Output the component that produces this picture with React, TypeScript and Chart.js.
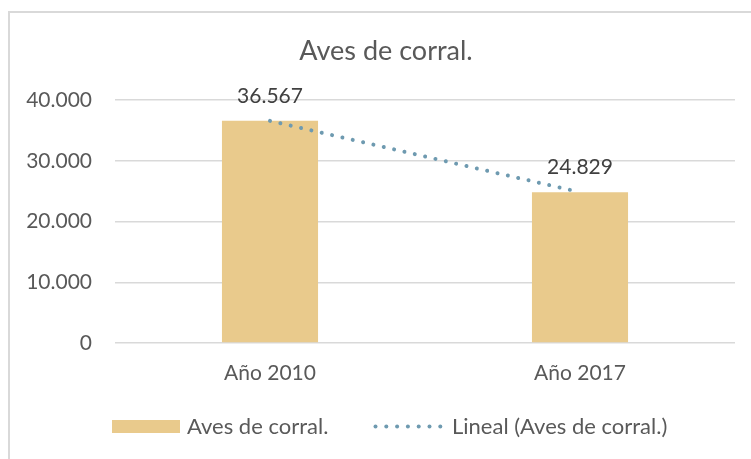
import React, { useEffect, useRef } from "react";
import { Chart, registerables } from "chart.js";

Chart.register(...registerables);

const categories = ["Año 2010", "Año 2017"];
const seriesName = "Aves de corral.";
const values = [36567, 24829];
const trendName = "Lineal (Aves de corral.)";
const chartTitle = "Aves de corral.";

const FONT = "Lato, 'Open Sans', sans-serif";
const TEXT = "#595959";
const GRID = "#D9D9D9";
const BAR = "#E9CA8C";
const TREND = "#6E9AB0";

function fmt(v: number): string {
  return Math.round(v)
    .toString()
    .replace(/\B(?=(\d{3})+(?!\d))/g, ".");
}

// least-squares linear trend over category index
function linearTrend(ys: number[]): number[] {
  const n = ys.length;
  const xs = ys.map((_, i) => i + 1);
  const mx = xs.reduce((a, b) => a + b, 0) / n;
  const my = ys.reduce((a, b) => a + b, 0) / n;
  let num = 0;
  let den = 0;
  for (let i = 0; i < n; i++) {
    num += (xs[i] - mx) * (ys[i] - my);
    den += (xs[i] - mx) * (xs[i] - mx);
  }
  const slope = den === 0 ? 0 : num / den;
  return xs.map((x) => my + slope * (x - mx));
}

const decorPlugin = {
  id: "decor",
  beforeDraw(chart: any) {
    const ctx = chart.ctx;
    ctx.save();
    ctx.fillStyle = "#ffffff";
    ctx.fillRect(0, 0, chart.width, chart.height);
    ctx.strokeStyle = GRID;
    ctx.lineWidth = 2;
    ctx.strokeRect(9, 12, chart.width + 20, chart.height + 20);
    ctx.restore();
  },
  afterDraw(chart: any) {
    const ctx = chart.ctx;
    ctx.save();
    // title
    ctx.fillStyle = TEXT;
    ctx.font = `27px ${FONT}`;
    ctx.textAlign = "center";
    ctx.textBaseline = "middle";
    ctx.fillText(chartTitle, 386, 51);

    // data labels
    const meta = chart.getDatasetMeta(0);
    ctx.fillStyle = "#404040";
    ctx.font = `21px ${FONT}`;
    meta.data.forEach((bar: any, i: number) => {
      ctx.fillText(fmt(values[i]), bar.x, bar.y - 25);
    });

    // legend
    const ly = 426.5;
    ctx.fillStyle = BAR;
    ctx.fillRect(112, 420, 68, 13);
    ctx.fillStyle = TEXT;
    ctx.textAlign = "left";
    ctx.font = `22px ${FONT}`;
    ctx.fillText(seriesName, 187, ly);
    ctx.fillStyle = TREND;
    for (let k = 0; k < 7; k++) {
      ctx.beginPath();
      ctx.arc(375.5 + k * 10.8, ly, 2, 0, Math.PI * 2);
      ctx.fill();
    }
    ctx.fillStyle = TEXT;
    ctx.fillText(trendName, 452, ly);
    ctx.restore();
  },
};

export default function App() {
  const ref = useRef<HTMLCanvasElement | null>(null);

  useEffect(() => {
    if (!ref.current) return;
    const chart = new Chart(ref.current, {
      type: "bar",
      data: {
        labels: categories,
        datasets: [
          {
            type: "bar",
            label: seriesName,
            data: values,
            backgroundColor: BAR,
            borderWidth: 0,
            barPercentage: 0.31,
            categoryPercentage: 1,
            order: 2,
          },
          {
            type: "line",
            label: trendName,
            data: linearTrend(values),
            borderColor: TREND,
            borderWidth: 4,
            borderDash: [0.01, 10.6],
            borderCapStyle: "round",
            pointRadius: 0,
            fill: false,
            order: 1,
          } as any,
        ],
      },
      options: {
        responsive: false,
        animation: false,
        layout: { padding: { left: 0, right: 16, top: 100, bottom: 0 } },
        plugins: {
          legend: { display: false },
          title: { display: false },
          tooltip: { enabled: false },
        },
        scales: {
          x: {
            grid: { display: false, drawTicks: false },
            border: { display: false },
            ticks: {
              color: TEXT,
              font: { family: FONT, size: 21 },
              padding: 18,
            },
            afterFit(scale: any) {
              scale.height = 116;
            },
          },
          y: {
            min: 0,
            max: 40000,
            grid: { color: GRID, lineWidth: 1.5, drawTicks: false },
            border: { display: false },
            ticks: {
              stepSize: 10000,
              color: TEXT,
              font: { family: FONT, size: 21 },
              padding: 23,
              callback: (v: any) => fmt(Number(v)),
            },
            afterFit(scale: any) {
              scale.width = 115;
            },
          },
        },
      },
      plugins: [decorPlugin],
    });
    return () => chart.destroy();
  }, []);

  return (
    <div style={{ position: "absolute", left: 0, top: 0, width: 751, height: 459 }}>
      <canvas ref={ref} width={751} height={459} />
    </div>
  );
}
